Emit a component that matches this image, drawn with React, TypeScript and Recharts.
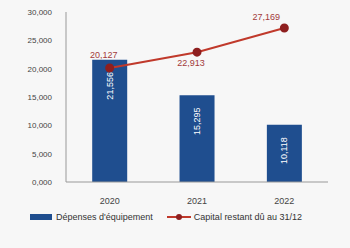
import React from 'react'
import { ComposedChart, Bar, Line, XAxis, YAxis, LabelList, Legend } from 'recharts'

const years = ['2020', '2021', '2022']
const depenses = [21556, 15295, 10118]
const capital = [20127, 22913, 27169]
const yTicks = [0, 5000, 10000, 15000, 20000, 25000, 30000]

const data = years.map((year, i) => ({ year, depenses: depenses[i], capital: capital[i] }))

const fmt = (v: number) => (v === 0 ? '0,000' : v.toLocaleString('en-US'))

const BarValue = (props: any) => {
  const { x, y, width, value } = props
  const cx = x + width / 2
  const cy = y + 26
  return (
    <text x={cx} y={cy} transform={`rotate(-90 ${cx} ${cy})`} textAnchor="middle" dominantBaseline="central" fontSize={9} fill="#ffffff">
      {fmt(value)}
    </text>
  )
}

// small per-point nudges so the labels sit like in the source
const labelShift = [
  { dx: -6, dy: -10 },
  { dx: -6, dy: 14 },
  { dx: -18, dy: -8 },
]

const LineValue = (props: any) => {
  const { x, y, value, index } = props
  const s = labelShift[index] || { dx: 0, dy: -8 }
  return (
    <text x={x + s.dx} y={y + s.dy} textAnchor="middle" fontSize={9} fill="#a33a3a">
      {fmt(value)}
    </text>
  )
}

const LegendContent = () => (
  <div style={{ display: 'flex', justifyContent: 'center', gap: 14, fontSize: 9, color: '#333', fontFamily: '"Liberation Sans", Arial, sans-serif' }}>
    <div style={{ display: 'flex', alignItems: 'center' }}>
      <div style={{ width: 22, height: 6, background: '#1f4e8f', marginRight: 4 }} />
      <span>Dépenses d'équipement</span>
    </div>
    <div style={{ display: 'flex', alignItems: 'center' }}>
      <svg width={24} height={8} style={{ marginRight: 3 }}>
        <line x1={0} y1={4} x2={24} y2={4} stroke="#c0392b" strokeWidth={2} />
        <circle cx={12} cy={4} r={3} fill="#8e1f1f" />
      </svg>
      <span>Capital restant dû au 31/12</span>
    </div>
  </div>
)

export default function App() {
  return (
    <div style={{ position: 'absolute', left: 0, top: 0, width: 350, height: 248, background: '#f7f7f7', fontFamily: '"Liberation Sans", Arial, sans-serif' }}>
      <ComposedChart width={350} height={248} data={data} margin={{ top: 12, right: 22, left: 4, bottom: 14 }} barCategoryGap="30%">
        <XAxis dataKey="year" axisLine={{ stroke: '#999' }} tickLine={false} tick={{ fontSize: 9, fill: '#444' }} tickMargin={10} />
        <YAxis domain={[0, 30000]} ticks={yTicks} tickFormatter={fmt} axisLine={{ stroke: '#999' }} tickLine={false} tick={{ fontSize: 8, fill: '#444' }} width={62} tickMargin={8} />
        <Bar dataKey="depenses" fill="#1f4e8f" isAnimationActive={false}>
          <LabelList dataKey="depenses" content={BarValue} />
        </Bar>
        <Line dataKey="capital" stroke="#c0392b" strokeWidth={2} dot={{ r: 3.5, fill: '#8e1f1f', stroke: '#8e1f1f' }} isAnimationActive={false}>
          <LabelList dataKey="capital" content={LineValue} />
        </Line>
        <Legend verticalAlign="bottom" height={22} content={LegendContent} />
      </ComposedChart>
    </div>
  )
}
